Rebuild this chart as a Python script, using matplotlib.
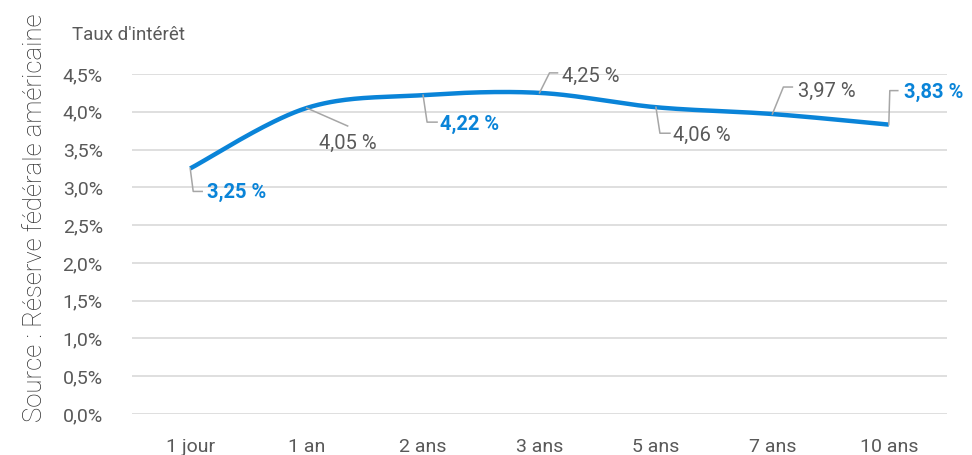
import numpy as np
import matplotlib.pyplot as plt
from matplotlib.lines import Line2D
from matplotlib.transforms import IdentityTransform

# Maturities and rates
maturities = ['1 jour', '1 an', '2 ans', '3 ans', '5 ans', '7 ans', '10 ans']
rates = [3.25, 4.05, 4.22, 4.25, 4.06, 3.97, 3.83]
highlight = [True, False, True, False, False, False, True]
yticks = [0.0, 0.5, 1.0, 1.5, 2.0, 2.5, 3.0, 3.5, 4.0, 4.5]

BLUE = '#0a84d8'
GREY = '#595959'

plt.rcParams['font.family'] = ['Roboto', 'DejaVu Sans']


def smooth(x, y, n=40):
    # Catmull-Rom style Bezier through every point
    x = np.asarray(x, float)
    y = np.asarray(y, float)
    pts = np.column_stack([x, y])
    padded = np.vstack([pts[0], pts, pts[-1]])
    out = []
    t = np.linspace(0, 1, n)[:, None]
    for k in range(len(pts) - 1):
        p0, p1, p2, p3 = padded[k], padded[k + 1], padded[k + 2], padded[k + 3]
        b1 = p1 + (p2 - p0) / 6
        b2 = p2 - (p3 - p1) / 6
        seg = ((1 - t) ** 3) * p1 + 3 * ((1 - t) ** 2) * t * b1 + 3 * (1 - t) * t ** 2 * b2 + t ** 3 * p2
        out.append(seg if k == 0 else seg[1:])
    out = np.vstack(out)
    return out[:, 0], out[:, 1]


fig = plt.figure(figsize=(9.72, 4.55), dpi=100)
ax = fig.add_axes([0.1358, 0.0901, 0.8385, 0.7473])

x = np.arange(len(maturities))
sx, sy = smooth(x, rates)
ax.plot(sx, sy, color=BLUE, lw=3.2, solid_capstyle='butt', zorder=3)

ax.set_xlim(-0.5, len(maturities) - 0.5)
ax.set_ylim(0, 4.5)
ax.set_yticks(yticks)
ax.set_yticklabels([f'{v:.1f}%'.replace('.', ',') for v in yticks])
ax.set_xticks(x)
ax.set_xticklabels(maturities)
ax.tick_params(axis='both', length=0, labelsize=14, labelcolor=GREY)
ax.tick_params(axis='y', pad=21)
ax.tick_params(axis='x', pad=17)
ax.yaxis.grid(True, color='#d9d9d9', lw=1.2)
ax.set_axisbelow(True)
for s in ax.spines.values():
    s.set_visible(False)

# Label placement: (elbow, end of leader, text start) as pixel offsets, y down
offsets = [
    ((3, 23), (12, 23), (17, 24), 'left'),
    (None, (41, 18), (41, 35), 'center'),
    ((4, 27), (14, 27), (17, 29), 'left'),
    ((10, -20), (18, -20), (22, -16), 'left'),
    ((4, 26), (14, 26), (17, 28), 'left'),
    ((11, -27), (20, -27), (26, -23), 'left'),
    ((1, -34), (9, -34), (15, -32), 'left'),
]

fig.canvas.draw()
for i, (v, hl, (elbow, end, txt, ha)) in enumerate(zip(rates, highlight, offsets)):
    px, py = ax.transData.transform((i, v))
    path = [(px, py)]
    if elbow is not None:
        path.append((px + elbow[0], py - elbow[1]))
    path.append((px + end[0], py - end[1]))
    xs, ys = zip(*path)
    fig.add_artist(Line2D(xs, ys, transform=IdentityTransform(), color='#a6a6a6', lw=1.1, zorder=2))
    label = f'{v:.2f} %'.replace('.', ',')
    fig.text(px + txt[0], py - txt[1], label, transform=IdentityTransform(),
             ha=ha, va='center', fontsize=14.5,
             color=BLUE if hl else GREY, fontweight='bold' if hl else 'normal')

fig.text(72 / 972, 1 - 35 / 455, "Taux d'intérêt", fontsize=13.5, color=GREY,
         ha='left', va='center')
fig.text(35 / 972, 1 - 218 / 455, 'Source : Réserve fédérale américaine', rotation=90,
         fontsize=18.5, fontweight='light', color='#2e2e2e', ha='center', va='center')

fig.savefig('out.png', dpi=100)
